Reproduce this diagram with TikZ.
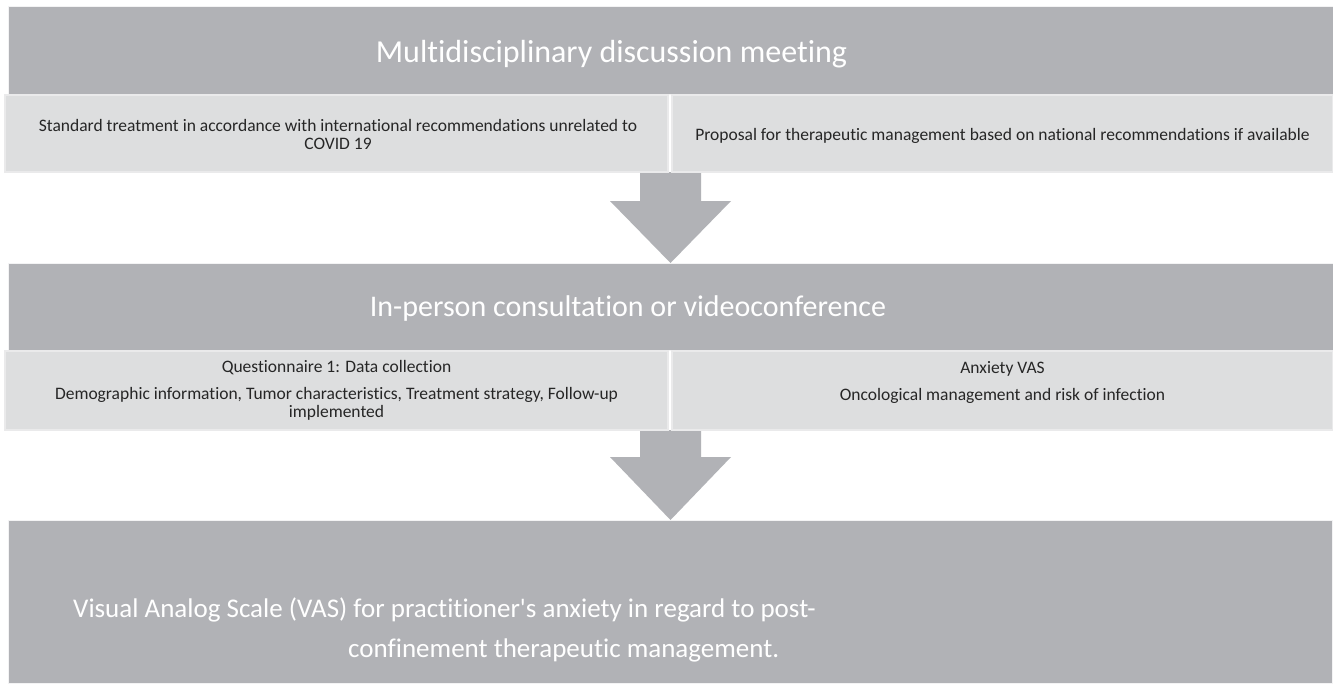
\documentclass[tikz,border=0pt]{standalone}
\usepackage{fontspec}
\setmainfont{Carlito}[RawFeature=-liga]
\definecolor{barg}{HTML}{B1B2B6}
\definecolor{subg}{HTML}{DDDEDF}
\definecolor{subline}{HTML}{EAEAEB}
\definecolor{txt}{HTML}{262626}
\begin{document}
\begin{tikzpicture}[x=1pt,y=-1pt,
  bar/.style={fill=barg,draw=white!85!barg,line width=1pt},
  subbox/.style={fill=subg,draw=subline,line width=1.5pt},
  blockarrow/.style={fill=barg},
  bigtext/.style={text=white,font=\fontsize{32}{39}\selectfont,inner sep=0pt,anchor=base},
  bottomtext/.style={text=white,font=\fontsize{27}{33}\selectfont,inner sep=0pt,anchor=base west},
  smalltext/.style={text=txt,font=\fontsize{17.5}{18}\selectfont,inner sep=0pt,anchor=base,align=center}]
\path[fill=white] (0,0) rectangle (1333,683);
\useasboundingbox (0,0) rectangle (1333,683);
% block arrows
\path[blockarrow] (640,172) -- (701,172) -- (701,201) -- (731,201) -- (670.5,263) -- (610,201) -- (640,201) -- cycle;
\path[blockarrow] (640,430) -- (701,430) -- (701,457) -- (731,457) -- (670.5,520) -- (610,457) -- (640,457) -- cycle;
% bars and boxes
\path[bar] (8,6) rectangle (1333,94);
\path[subbox] (5,95) rectangle (668,172);
\path[subbox] (672,95) rectangle (1333,172);
\path[bar] (8,263) rectangle (1333,350);
\path[subbox] (5,351) rectangle (668,430);
\path[subbox] (672,351) rectangle (1333,430);
\path[bar] (8,520) rectangle (1332,683);
% texts
\node[bigtext] (t1) at (611.5,62) {Multidisciplinary discussion meeting};
\node[smalltext] (s1) at (338,149) {Standard treatment in accordance with international recommendations unrelated to\\COVID 19};
\node[smalltext] (s2) at (1002.5,140) {Proposal for therapeutic management based on national recommendations if available};
\node[bigtext,font=\fontsize{30}{36}\selectfont] (t2) at (628,316) {In-person consultation or videoconference};
\node[smalltext] (q1) at (336.5,417) {Questionnaire 1: Data collection\\[9pt]Demographic information, Tumor characteristics, Treatment strategy, Follow-up\\implemented};
\node[smalltext] (q2) at (1002.5,400) {Anxiety VAS\\[9pt]Oncological management and risk of infection};
\node[bottomtext] (b1) at (73,617) {Visual Analog Scale (VAS) for practitioner\textquotesingle s anxiety in regard to post-};
\node[bottomtext] (b2) at (348,657) {confinement therapeutic management.};
\end{tikzpicture}
\end{document}
